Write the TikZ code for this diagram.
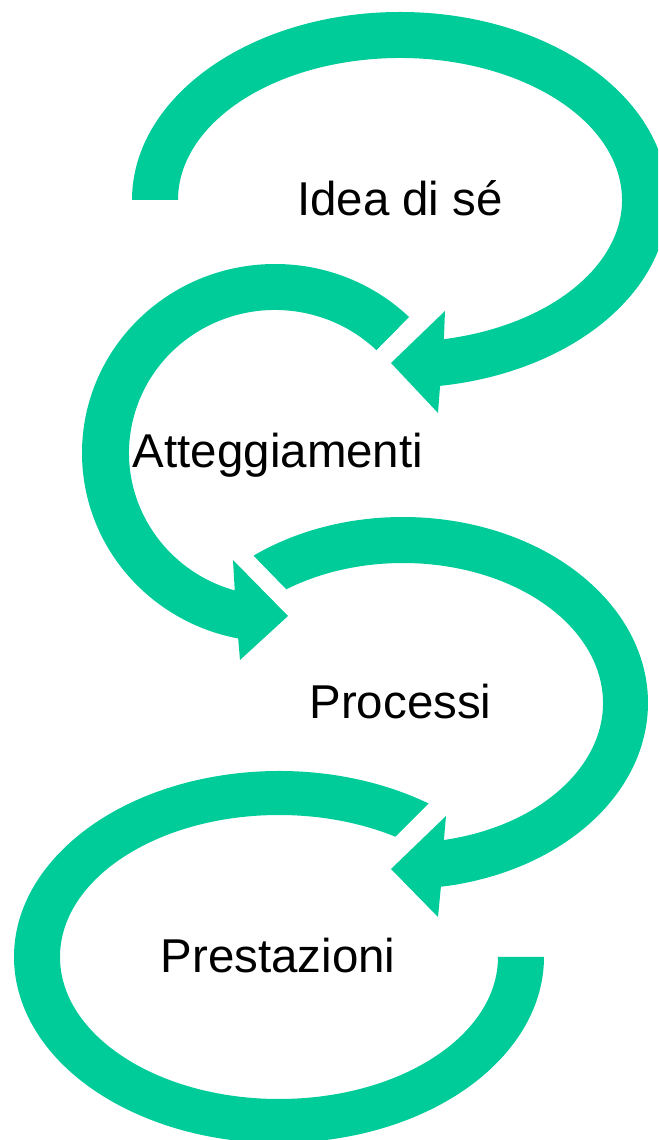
\documentclass[tikz,border=0pt]{standalone}
\usepackage{fontspec}
\setmainfont{Liberation Sans}
\usepackage{tikz}
\definecolor{bandgreen}{RGB}{0,204,153}

\begin{document}
\begin{tikzpicture}[x=0.75pt, y=0.75pt,
		band/.style = {fill=bandgreen},
		word/.style = {anchor=base, inner sep=0pt, font=\fontsize{35.6}{42}\selectfont}]
	\def\W{658};
	\def\H{1140};

	\path[use as bounding box] (0,0) rectangle (\W,\H);
	\clip (0,0) rectangle (\W,\H);

	\begin{scope}[shift={(400,940)}]
		\fill[band] (180:268 and 188) arc[start angle=180, end angle=-81.4, x radius=268, y radius=188]
			-- (38,-213) -- (-9,-163) -- (45,-111)
			-- (-78.6:222 and 142) arc[start angle=-78.6, end angle=180, x radius=222, y radius=142] -- cycle;
		\node[word] (idea) at (0,-16) {Idea di sé};
	\end{scope}

	\begin{scope}[shift={(275,687)}]
		\fill[band] (46:193 and 189) arc[start angle=46, end angle=259, x radius=193, y radius=189]
			-- (-35,-207) -- (13,-163) -- (-42,-107)
			-- (254:146 and 143) arc[start angle=254, end angle=46, x radius=146, y radius=143] -- cycle;
		\node[word] (atteg) at (3,-15) {Atteggiamenti};
	\end{scope}

	\begin{scope}[shift={(403,437)}]
		\fill[band] (127.6:245 and 186) arc[start angle=127.6, end angle=-81.1, x radius=245, y radius=186]
			-- (35,-214) -- (-12,-166) -- (43,-113)
			-- (-78.2:200 and 140) arc[start angle=-78.2, end angle=125.7, x radius=200, y radius=140] -- cycle;
		\node[word] (proc) at (-2.5,-16) {Processi};
	\end{scope}

	\begin{scope}[shift={(279,183)}]
		\fill[band] (55.6:265 and 186) arc[start angle=55.6, end angle=360, x radius=265, y radius=186]
			-- (0:219 and 142) arc[start angle=360, end angle=57.9, x radius=219, y radius=142] -- cycle;
		\node[word] (prest) at (-1,-16) {Prestazioni};
	\end{scope}
\end{tikzpicture}
\end{document}
